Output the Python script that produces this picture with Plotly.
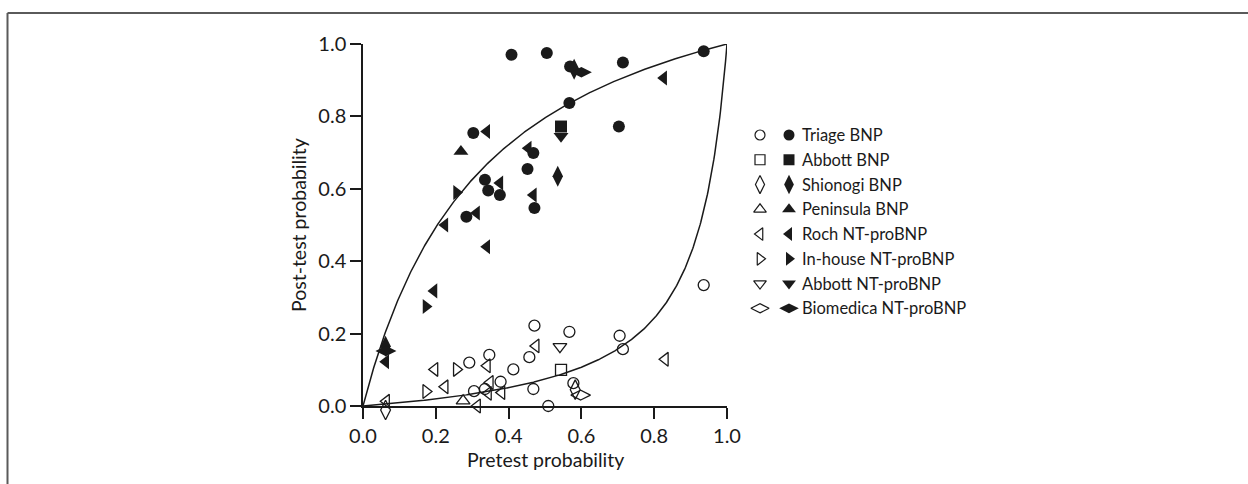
import numpy as np
import plotly.graph_objects as go

# ---- data: pretest (x) / post-test (y) probabilities per assay ----
# "neg" = negative test result (open symbols), "pos" = positive result (filled symbols)
triage_neg_x = [0.292, 0.347, 0.305, 0.335, 0.471, 0.567, 0.705, 0.714, 0.457, 0.413, 0.378, 0.468, 0.578, 0.509, 0.936]
triage_neg_y = [0.120, 0.141, 0.041, 0.047, 0.222, 0.205, 0.194, 0.157, 0.135, 0.101, 0.067, 0.047, 0.063, 0.000, 0.334]
triage_pos_x = [0.408, 0.505, 0.569, 0.714, 0.936, 0.567, 0.703, 0.303, 0.468, 0.452, 0.335, 0.344, 0.376, 0.471, 0.284]
triage_pos_y = [0.970, 0.975, 0.938, 0.949, 0.980, 0.837, 0.772, 0.754, 0.699, 0.655, 0.625, 0.595, 0.583, 0.547, 0.523]

abbott_bnp_neg_x = [0.544]
abbott_bnp_neg_y = [0.100]
abbott_bnp_pos_x = [0.544]
abbott_bnp_pos_y = [0.772]

shionogi_neg_x = [0.062, 0.583]
shionogi_neg_y = [-0.011, 0.045]
shionogi_pos_x = [0.580, 0.535, 0.062]
shionogi_pos_y = [0.930, 0.635, 0.165]

peninsula_neg_x = [0.275]
peninsula_neg_y = [0.014]
peninsula_pos_x = [0.269]
peninsula_pos_y = [0.703]

roch_neg_x = [0.064, 0.197, 0.225, 0.341, 0.349, 0.344, 0.381, 0.314, 0.475, 0.830]
roch_neg_y = [0.013, 0.101, 0.053, 0.111, 0.065, 0.035, 0.037, 0.000, 0.166, 0.129]
roch_pos_x = [0.826, 0.340, 0.454, 0.376, 0.468, 0.312, 0.225, 0.340, 0.195, 0.0625]
roch_pos_y = [0.906, 0.758, 0.712, 0.616, 0.583, 0.533, 0.500, 0.440, 0.318, 0.122]

inhouse_neg_x = [0.257, 0.173]
inhouse_neg_y = [0.101, 0.040]
inhouse_pos_x = [0.257, 0.173]
inhouse_pos_y = [0.590, 0.275]

abbott_nt_neg_x = [0.541]
abbott_nt_neg_y = [0.164]
abbott_nt_pos_x = [0.544]
abbott_nt_pos_y = [0.745]

biomedica_neg_x = [0.598]
biomedica_neg_y = [0.030]
biomedica_pos_x = [0.600, 0.063]
biomedica_pos_y = [0.922, 0.152]

# likelihood ratios for the two reference curves
LR_POSITIVE = 3.9
LR_NEGATIVE = 0.08

legend_labels = ["Triage BNP", "Abbott BNP", "Shionogi BNP", "Peninsula BNP",
                 "Roch NT-proBNP", "In-house NT-proBNP", "Abbott NT-proBNP",
                 "Biomedica NT-proBNP"]

series = [
    ("circle", 11, 12, triage_neg_x, triage_neg_y, triage_pos_x, triage_pos_y),
    ("square", 11, 12, abbott_bnp_neg_x, abbott_bnp_neg_y, abbott_bnp_pos_x, abbott_bnp_pos_y),
    ("diamond-tall", 14, 15, shionogi_neg_x, shionogi_neg_y, shionogi_pos_x, shionogi_pos_y),
    ("triangle-up", 12, 13, peninsula_neg_x, peninsula_neg_y, peninsula_pos_x, peninsula_pos_y),
    ("triangle-left", 12, 13, roch_neg_x, roch_neg_y, roch_pos_x, roch_pos_y),
    ("triangle-right", 12, 13, inhouse_neg_x, inhouse_neg_y, inhouse_pos_x, inhouse_pos_y),
    ("triangle-down", 12, 13, abbott_nt_neg_x, abbott_nt_neg_y, abbott_nt_pos_x, abbott_nt_pos_y),
    ("diamond-wide", 14, 15, biomedica_neg_x, biomedica_neg_y, biomedica_pos_x, biomedica_pos_y),
]

INK = "#1a1a1a"
FONT = "Lato"

W, H = 1248, 484
L, R, T, B = 363, 238, 44, 64
plot_w = W - L - R          # 647 px: main panel + key
plot_h = H - T - B          # 376 px
AXIS_H = 362                # height of the 0..1 probability axis in px
main_frac = 364 / plot_w
below = (plot_h - AXIS_H)   # px of room under the x axis for symbols that dip below 0

fig = go.Figure()

# Bayes curves: post-test = LR*p / (1 - p + LR*p), drawn on the visible axes
p = np.linspace(0, 1, 501)
for lr in (LR_POSITIVE, LR_NEGATIVE):
    post = lr * p / (1 - p + lr * p)
    fig.add_trace(go.Scatter(x=p, y=post, mode="lines", xaxis="x", yaxis="y",
                             line=dict(color=INK, width=1.5),
                             hoverinfo="skip", showlegend=False, cliponaxis=False))

# symbol layer: same scale as the visible y axis, extended below 0
for sym, s_open, s_fill, nx, ny, px, py in series:
    fig.add_trace(go.Scatter(x=nx, y=ny, mode="markers", cliponaxis=False,
                             xaxis="x", yaxis="y3",
                             marker=dict(symbol=sym + "-open", size=s_open, color=INK,
                                         line=dict(width=1.3, color=INK)),
                             hoverinfo="skip", showlegend=False))
    fig.add_trace(go.Scatter(x=px, y=py, mode="markers", cliponaxis=False,
                             xaxis="x", yaxis="y3",
                             marker=dict(symbol=sym, size=s_fill, color=INK,
                                         line=dict(width=0)),
                             hoverinfo="skip", showlegend=False))

# key: row index on y2, column 0 = open symbol, column 1 = filled symbol
key_top_px, key_row_px = 135, 24.76
for i, (sym, s_open, s_fill, *_rest) in enumerate(series):
    fig.add_trace(go.Scatter(x=[0], y=[i], xaxis="x2", yaxis="y2", mode="markers",
                             marker=dict(symbol=sym + "-open", size=s_open - 1, color=INK,
                                         line=dict(width=1.2, color=INK)),
                             hoverinfo="skip", showlegend=False, cliponaxis=False))
    fig.add_trace(go.Scatter(x=[1], y=[i], xaxis="x2", yaxis="y2", mode="markers",
                             marker=dict(symbol=sym, size=s_fill - 1, color=INK),
                             hoverinfo="skip", showlegend=False, cliponaxis=False))
    fig.add_annotation(x=1.38, y=i, xref="x2", yref="y2", text=legend_labels[i],
                       showarrow=False, xanchor="left", yanchor="middle",
                       font=dict(family=FONT, size=16.5, color=INK))

axis_common = dict(range=[0, 1], showgrid=False, zeroline=False, showline=True,
                   linecolor=INK, linewidth=1.5, ticks="outside", ticklen=11,
                   tickwidth=1.5, tickcolor=INK,
                   tickvals=[0, 0.2, 0.4, 0.6, 0.8, 1.0], tickformat=".1f",
                   tickfont=dict(family=FONT, size=20, color=INK))

bottom_px = T + plot_h
fig.update_layout(
    width=W, height=H,
    margin=dict(l=L, r=R, t=T, b=B, pad=0),
    paper_bgcolor="white", plot_bgcolor="rgba(0,0,0,0)",
    xaxis=dict(domain=[0, main_frac], anchor="y", **axis_common),
    yaxis=dict(domain=[below / plot_h, 1], anchor="x", **axis_common),
    yaxis3=dict(domain=[0, 1], range=[-below / AXIS_H, 1], visible=False,
                anchor="x", showgrid=False, zeroline=False),
    xaxis2=dict(domain=[main_frac, 1], range=[(727 - 760) / 29, (1010 - 760) / 29],
                visible=False, anchor="y2"),
    yaxis2=dict(domain=[0, 1],
                range=[(bottom_px - key_top_px) / key_row_px, (T - key_top_px) / key_row_px],
                visible=False, anchor="x2"),
    showlegend=False,
)

# axis titles
fig.add_annotation(x=(545 - L) / plot_w, y=(bottom_px - 459) / plot_h, xref="paper", yref="paper",
                   text="Pretest probability", showarrow=False,
                   xanchor="center", yanchor="middle",
                   font=dict(family=FONT, size=19.5, color=INK))
fig.add_annotation(x=(298 - L) / plot_w, y=(bottom_px - 225) / plot_h, xref="paper", yref="paper",
                   text="Post-test probability", showarrow=False, textangle=-90,
                   xanchor="center", yanchor="middle",
                   font=dict(family=FONT, size=19.5, color=INK))

# page frame: top and left rules
fx0 = (7.5 - L) / plot_w
fx1 = (W - L) / plot_w
fy_top = (bottom_px - 13) / plot_h
fy_bot = (bottom_px - H) / plot_h
fig.add_shape(type="line", xref="paper", yref="paper", x0=fx0, x1=fx1, y0=fy_top, y1=fy_top,
              line=dict(color="#5a5a5a", width=2))
fig.add_shape(type="line", xref="paper", yref="paper", x0=fx0, x1=fx0, y0=fy_top, y1=fy_bot,
              line=dict(color="#5a5a5a", width=2))

fig.write_html("out.html")
